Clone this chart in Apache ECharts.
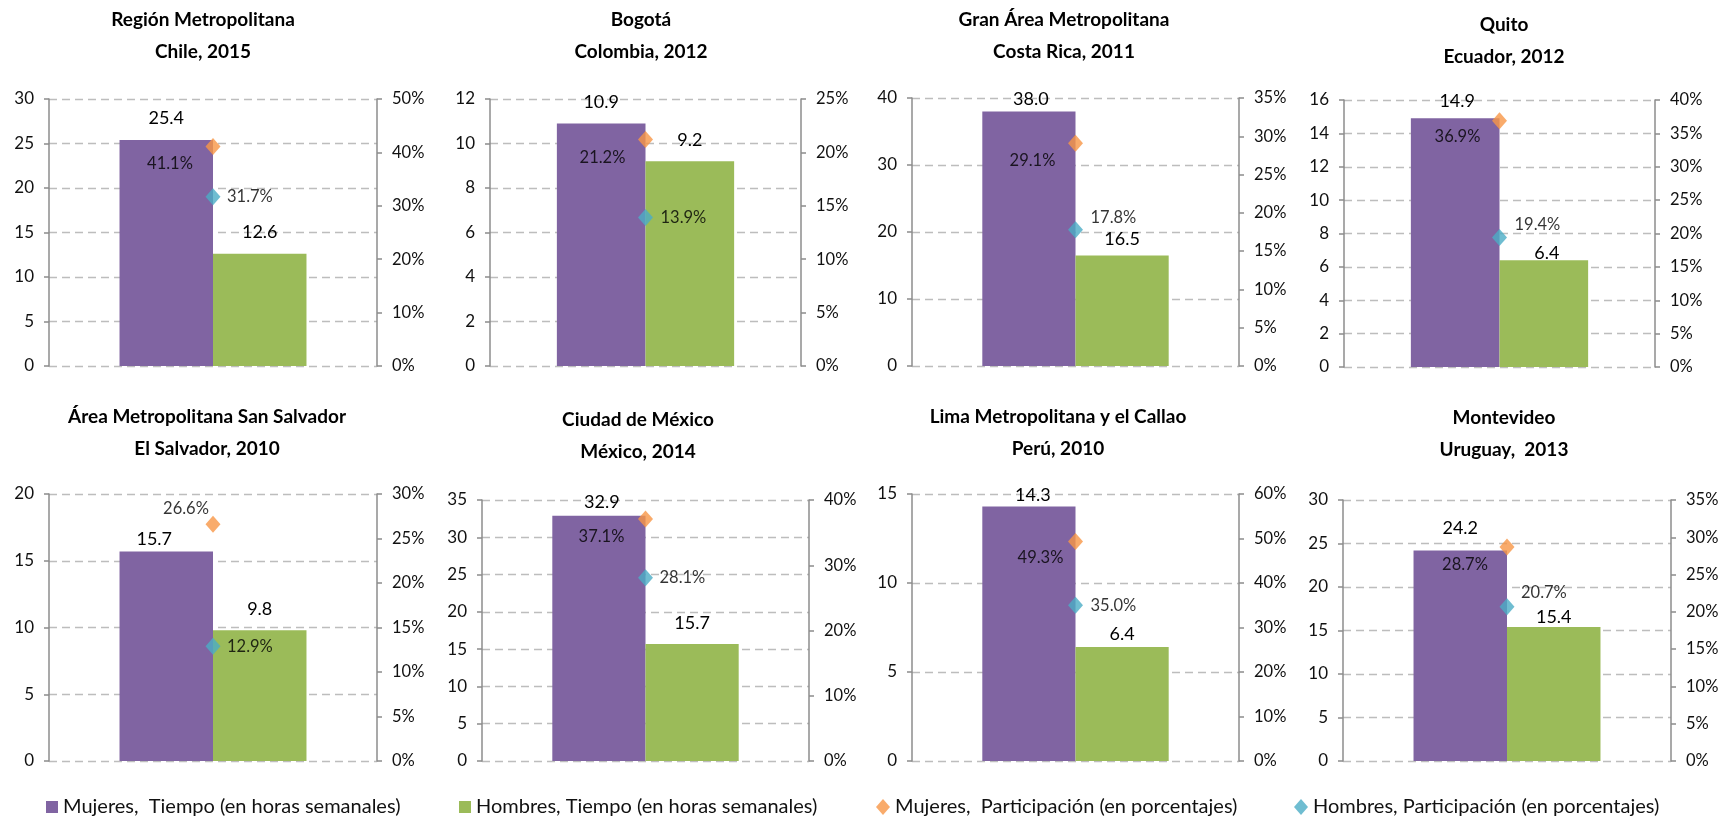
<!DOCTYPE html>
<html>
<head>
<meta charset="utf-8">
<script src="https://cdn.jsdelivr.net/npm/echarts@6/dist/echarts.min.js"></script>
<style>
  html, body { margin: 0; background: #fff; }
  #chart { width: 1726px; height: 820px; }
</style>
</head>
<body>
<div id="chart"></div>
<script>
const panelTitles = [
  'Región Metropolitana\nChile, 2015',
  'Bogotá\nColombia, 2012',
  'Gran Área Metropolitana\nCosta Rica, 2011',
  'Quito\nEcuador, 2012',
  'Área Metropolitana San Salvador\nEl Salvador, 2010',
  'Ciudad de México\nMéxico, 2014',
  'Lima Metropolitana y el Callao\nPerú, 2010',
  'Montevideo\nUruguay,  2013'
]
const seriesNames = [
  'Mujeres,  Tiempo (en horas semanales)',
  'Hombres, Tiempo (en horas semanales)',
  'Mujeres,  Participación (en porcentajes)',
  'Hombres, Participación (en porcentajes)'
]
const mujeresTiempo = [25.4, 10.9, 38.0, 14.9, 15.7, 32.9, 14.3, 24.2]
const hombresTiempo = [12.6, 9.2, 16.5, 6.4, 9.8, 15.7, 6.4, 15.4]
const mujeresPart = [41.1, 21.2, 29.1, 36.9, 26.6, 37.1, 49.3, 28.7]
const hombresPart = [31.7, 13.9, 17.8, 19.4, 12.9, 28.1, 35.0, 20.7]
const leftMax = [30, 12, 40, 16, 20, 35, 15, 30]
const leftStep = [5, 2, 10, 2, 5, 5, 5, 5]
const rightMax = [50, 25, 35, 40, 30, 40, 60, 35]
const rightStep = [10, 5, 5, 5, 5, 10, 10, 5]

// layout: plot boxes, title centres, label nudges (pixels)
const boxes = [
  [49, 99, 328, 267], [490, 99, 311, 267], [912, 98, 327, 268], [1344, 100, 311, 267],
  [49, 494, 328, 267], [482, 500, 327, 261], [912, 494, 327, 267], [1343, 500, 328, 261]
]
const titlePos = [[203, 20], [641, 20], [1064, 20], [1504, 25], [207, 417], [638, 420], [1058, 417], [1504, 418]]
const mBarLab = [[0, 22], [0, 21], [2, 12], [2, 17], [-12, 12], [3, 13], [4, 11], [0, 22]]
const hBarLab = [[0, 22], [0, 21], [0, 16], [3, 7], [0, 21], [0, 21], [0, 13], [0, 10]]
const mDotLab = [[-43, 17], [-43, 18], [-43, 17], [-42, 16], [-27, -16], [-44, 18], [-35, 16], [-42, 18]]
const hDotLab = [[14, 0], [15, 0], [15, -12], [15, -13], [14, 0], [14, 0], [15, 0], [14, -14]]

const colors = ['#8064A2', '#9BBB59', '#F79646', '#4BACC6']
const FONT = 'Lato, "Noto Sans", sans-serif'
const axisGray = '#8c8c8c'

const grid = [], xAxis = [], yAxis = [], series = [], title = []

boxes.forEach((b, i) => {
  grid.push({ left: b[0], top: b[1], width: b[2], height: b[3] })
  title.push({
    text: panelTitles[i],
    left: titlePos[i][0],
    top: titlePos[i][1] - 16,
    textAlign: 'center',
    padding: 0,
    textStyle: { fontFamily: FONT, fontSize: 19, fontWeight: 'bold', color: '#000', lineHeight: 32 }
  })
  xAxis.push({
    type: 'category', gridIndex: i, data: [''],
    axisLine: { show: false }, axisTick: { show: false }, axisLabel: { show: false }
  })
  yAxis.push({
    type: 'value', gridIndex: i, position: 'left',
    min: 0, max: leftMax[i], interval: leftStep[i],
    axisLine: { show: true, lineStyle: { color: axisGray, width: 1.5 } },
    axisTick: { show: true, length: 5, lineStyle: { color: axisGray, width: 1.5 } },
    axisLabel: { margin: 15, color: '#111', fontFamily: FONT, fontSize: 17 },
    splitLine: { show: true, lineStyle: { color: '#bdbdbd', type: [8, 5], width: 1.3 } }
  })
  yAxis.push({
    type: 'value', gridIndex: i, position: 'right',
    min: 0, max: rightMax[i], interval: rightStep[i],
    axisLine: { show: true, lineStyle: { color: axisGray, width: 1.5 } },
    axisTick: { show: true, length: 5, lineStyle: { color: axisGray, width: 1.5 } },
    axisLabel: { margin: 15, color: '#111', fontFamily: FONT, fontSize: 16.5, formatter: '{value}%' },
    splitLine: { show: false }
  })

  const barLabel = (off) => ({
    show: true, position: 'top', distance: 0,
    offset: [off[0], -(off[1] - 9)],
    color: '#000', fontFamily: FONT, fontSize: 18,
    formatter: (p) => p.value.toFixed(1)
  })
  const dotLabel = (off, align) => ({
    show: true, position: 'inside', offset: off, align,
    color: '#000', textBorderWidth: 0, fontFamily: FONT, fontSize: 16.5,
    formatter: (p) => p.value.toFixed(1) + '%'
  })
  series.push({
    name: seriesNames[0], type: 'bar', xAxisIndex: i, yAxisIndex: i * 2,
    data: [mujeresTiempo[i]], barWidth: '28.5%', barGap: '0%',
    itemStyle: { color: colors[0] }, label: barLabel(mBarLab[i])
  })
  series.push({
    name: seriesNames[1], type: 'bar', xAxisIndex: i, yAxisIndex: i * 2,
    data: [hombresTiempo[i]], barWidth: '28.5%', barGap: '0%',
    itemStyle: { color: colors[1] }, label: barLabel(hBarLab[i])
  })
  series.push({
    name: seriesNames[2], type: 'scatter', xAxisIndex: i, yAxisIndex: i * 2 + 1,
    data: [mujeresPart[i]], symbol: 'diamond', symbolSize: [15, 17],
    itemStyle: { color: colors[2] }, label: dotLabel(mDotLab[i], 'center')
  })
  series.push({
    name: seriesNames[3], type: 'scatter', xAxisIndex: i, yAxisIndex: i * 2 + 1,
    data: [hombresPart[i]], symbol: 'diamond', symbolSize: [15, 17],
    itemStyle: { color: colors[3] }, label: dotLabel(hDotLab[i], 'left')
  })
})

const legendLeft = [46, 459, 876, 1294]
const legendIcon = ['rect', 'rect', 'diamond', 'diamond']
const legend = seriesNames.map((name, k) => ({
  left: legendLeft[k], top: 797, padding: 0,
  itemWidth: k < 2 ? 12 : 14, itemHeight: k < 2 ? 12 : 16,
  selectedMode: false,
  data: [{ name, icon: legendIcon[k] }],
  textStyle: { fontFamily: FONT, fontSize: 20, color: '#111' }
}))

const chart = echarts.init(document.getElementById('chart'))
chart.setOption({
  animation: false,
  color: colors,
  title, grid, xAxis, yAxis, series, legend
})
window.addEventListener('resize', () => chart.resize())
</script>
</body>
</html>
